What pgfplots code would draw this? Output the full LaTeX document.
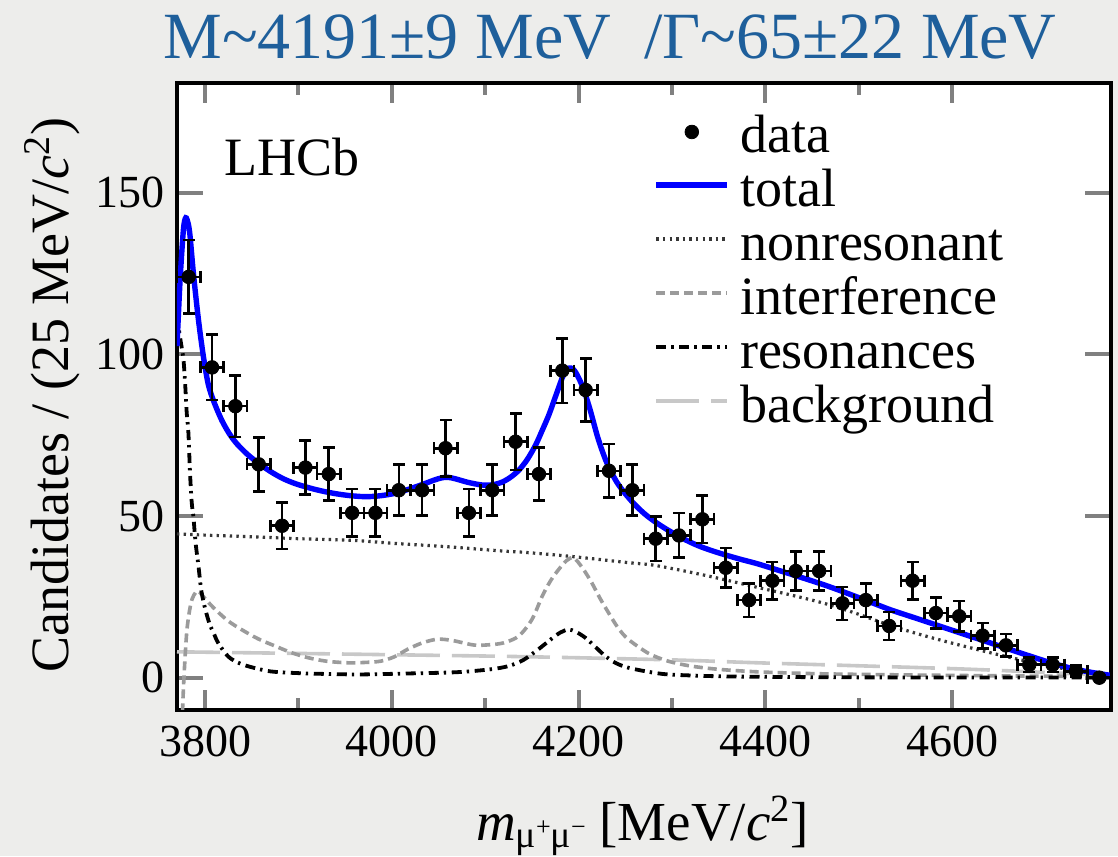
\documentclass[border=0pt]{standalone}
\usepackage{pgfplots}
\pgfplotsset{compat=1.18}
\usepackage{pgfplotstable}
\usetikzlibrary{plotmarks}
\usepackage{fontspec}
\setmainfont{Liberation Serif}
\definecolor{bgcol}{RGB}{237,237,235}
\definecolor{titleblue}{RGB}{30,95,155}
\definecolor{nonrescol}{RGB}{55,55,55}
\definecolor{intcol}{RGB}{155,155,155}
\definecolor{bkgcol}{RGB}{200,200,200}
\definecolor{totblue}{RGB}{0,0,255}
\pgfplotsset{dotlegend/.style={legend image code/.code={\draw[##1] plot coordinates {(17.75pt,4.5pt)};}}}

\pgfplotstableread{
x y ey
3782.5 124 11.4
3807.5 96 10.1
3832.5 84 9.5
3857.5 66 8.4
3882.5 47 7.2
3907.5 65 8.4
3932.5 63 8.2
3957.5 51 7.4
3982.5 51 7.4
4007.5 58 7.9
4032.5 58 7.9
4057.5 71 8.7
4082.5 51 7.4
4107.5 58 7.9
4132.5 73 8.8
4157.5 63 8.2
4182.5 95 10.0
4207.5 89 9.7
4232.5 64 8.3
4257.5 58 7.9
4282.5 43 6.9
4307.5 44 6.9
4332.5 49 7.3
4357.5 34 6.1
4382.5 24 5.2
4407.5 30 5.8
4432.5 33 6.0
4457.5 33 6.0
4482.5 23 5.1
4507.5 24 5.2
4532.5 16 4.3
4557.5 30 5.8
4582.5 20 4.8
4607.5 19 4.7
4632.5 13 3.9
4657.5 10 3.5
4682.5 4 2.3
4707.5 4 2.3
4732.5 2 1.7
4757.5 0 0
}\datatable

\pgfplotstableread{
x y
3770 102.6
3773.3 123
3776.9 138.7
3779.4 142.3
3782 140.5
3784 136.6
3787.5 125.3
3792.9 110.9
3798.2 99.5
3803.6 90.6
3810 85.0
3818 79.6
3826 75.5
3834 72.4
3845 69.2
3857 66.4
3870 63.8
3883.5 61.6
3897 60
3912 58.7
3926 57.7
3940.5 56.9
3956 56.3
3972.5 56.0
3988 56.3
4004.5 57.1
4018 58.3
4033 59.8
4045 61.1
4053 61.8
4060 62.0
4068.5 61.5
4082 60.4
4097 59.6
4108 59.7
4118 60.5
4127 62.0
4136 64.2
4145 67.5
4154 72
4161 76.5
4168 81.2
4174 86
4178.7 89.8
4182.5 92.8
4186 94.8
4190 95.8
4194 95.5
4198 93.9
4203 90.9
4207 87.8
4212 83.2
4216 79
4220 74.8
4225 70.4
4230 66.6
4236 63.0
4242 60
4250 56.9
4260 53.6
4271 50.6
4283 48
4296 45.6
4314 42.7
4330 40.6
4349 38.7
4370 36.9
4392 35.2
4412 33.4
4432 31.6
4463 28.7
4485 26.4
4506 24.1
4534 21.0
4558 18.7
4582 16.4
4607 14.0
4632 11.6
4657 9.2
4682 6.8
4707 4.5
4732 2.6
4750 1.6
4770 0.7
}\totaltable

\pgfplotstableread{
x y
3770 44.5
3800 44.1
3850 43.6
3900 43.0
3958 42.5
4000 41.6
4060 40.5
4118 39.2
4141 38.8
4189 37.6
4253 35.6
4278 34.9
4310 33.2
4349 30.8
4392 27.9
4427 25.6
4463 23.0
4499 19.7
4534 16.1
4570 13.0
4605 10.3
4641 7.7
4669 5.8
4712 3.2
4740 1.9
4770 0.6
}\nonrestable

\pgfplotstableread{
x y
3770 -80
3774 -35
3776 -10
3778 3
3780.4 14
3783 20
3786 24.2
3790 26.4
3793 26.8
3797 25.5
3803 23.5
3811 21.1
3825 17.5
3839 14.9
3857 12
3875 9.8
3892 7.8
3910 6.2
3930 5.1
3953 4.6
3970 4.7
3988 5.1
4003 6.5
4017 8.8
4033 10.8
4049 11.9
4065 11.5
4088 10.1
4105 10.2
4120 10.8
4136 12.9
4150 18
4161 25.2
4170 30
4178.7 33.5
4187 36.2
4194.7 37.1
4204 34
4214 29.4
4223 24.5
4232 20.1
4242 15.5
4253 11.9
4275 7.5
4296 5.1
4320 3.6
4349 2.6
4385 1.9
4420 1.5
4460 1.2
4506 1.0
4600 0.7
4770 0.3
}\inttable

\pgfplotstableread{
x y
3770 112
3771.5 108.8
3774 104
3776.9 98.5
3778.7 91
3780.4 82
3782.2 75.8
3784 63
3785.8 54.1
3787.5 50
3790 41.5
3793 34.5
3796 27
3800 21.5
3805 16.5
3809 14
3814 10.8
3825 6.5
3839 4.2
3860 2.5
3875 1.8
3910 1.3
3963 1.0
4017 1.3
4070 1.7
4106 2.6
4125 3.6
4141 5.5
4157 8.8
4170 11.8
4180 13.9
4189 14.9
4197 14.2
4207 12.4
4218 9.5
4228.5 6.7
4240 4.5
4253 3.1
4275 1.8
4296 1.0
4340 0.5
4385 0.3
4500 0.1
4770 0.05
}\restable

\pgfplotstableread{
x y
3770 8.0
3900 7.5
4000 7.1
4141 6.5
4300 5.5
4392 4.6
4509 3.6
4600 2.8
4662 2.1
4730 1.2
4770 0.5
}\bkgtable

\begin{document}
\begin{tikzpicture}
\fill[bgcol] (-88.5pt,-73pt) rectangle (470.5pt,355pt);
\begin{axis}[
  at={(0pt,0pt)}, anchor=south west,
  width=467pt, height=313.5pt, scale only axis,
  xmin=3770, xmax=4770, ymin=-10, ymax=184,
  axis background/.style={fill=white},
  axis line style={line width=2.2pt},
  tick align=inside,
  xtick={3800,4000,4200,4400,4600},
  xticklabels={3800,4000,4200,4400,4600},
  minor x tick num=1,
  ytick={0,50,100,150},
  yticklabels={0,50,100,150},
  major tick length=13pt,
  minor tick length=6pt,
  x tick style={line width=2pt, /pgfplots/major tick length=10pt},
  y tick style={line width=2pt},
  /pgf/number format/assume math mode=true,
  tick label style={font=\fontsize{23}{23}\selectfont},
  xticklabel style={inner sep=0pt, yshift=-8pt},
  yticklabel style={inner sep=0pt, xshift=-6pt},
  legend image code/.code={\draw[#1] (0pt,5pt) -- (35.5pt,5pt);},
  legend style={at={(axis description cs:0.5103,0.949)}, anchor=north west,
    draw=none, fill=none, inner sep=0pt, outer sep=0pt, row sep=1pt,
    font=\fontsize{27}{27}\selectfont,
    nodes={inner sep=0pt, text height=19pt, text depth=7pt},
    /tikz/every odd column/.append style={column sep=5pt}},
  legend cell align=left,
]
\addlegendimage{black, only marks, mark=*, mark size=3.4pt, dotlegend}
\addlegendentry{data}
\addlegendimage{totblue, line width=2.7pt}
\addlegendentry{total}
\addlegendimage{nonrescol, line width=1.6pt, dash pattern=on 1.2pt off 2.1pt}
\addlegendentry{nonresonant}
\addlegendimage{intcol, line width=1.8pt, dash pattern=on 4.5pt off 2.5pt}
\addlegendentry{interference}
\addlegendimage{black, line width=1.9pt, dash pattern=on 5pt off 2.5pt on 1.2pt off 2.8pt}
\addlegendentry{resonances}
\addlegendimage{bkgcol, line width=1.8pt, dash pattern=on 21.5pt off 6pt}
\addlegendentry{background}

\addplot[forget plot, bkgcol, line width=1.8pt, dash pattern=on 21.5pt off 6pt, smooth, tension=0.5] table {\bkgtable};
\addplot[forget plot, nonrescol, line width=1.6pt, dash pattern=on 1.2pt off 2.1pt, smooth, tension=0.5] table {\nonrestable};
\addplot[forget plot, intcol, line width=1.8pt, dash pattern=on 4.5pt off 2.5pt, smooth, tension=0.5] table {\inttable};
\addplot[forget plot, black, line width=1.9pt, dash pattern=on 5pt off 2.5pt on 1.2pt off 2.8pt, smooth, tension=0.5] table {\restable};
\addplot[forget plot, totblue, line width=2.7pt, smooth, tension=0.5] table {\totaltable};
% error bars (no caps) and caps drawn from the same table
\addplot[forget plot, draw=none, mark=none,
  error bars/.cd, x dir=both, x fixed=12.5, y dir=both, y explicit,
  error mark=none,
  error bar style={line width=1.3pt, black}]
  table[x=x, y=y, y error=ey] {\datatable};
\addplot[forget plot, black, only marks, mark=-, mark size=3pt, mark options={line width=1.3pt}]
  table[x=x, y expr=\thisrow{y}+\thisrow{ey}] {\datatable};
\addplot[forget plot, black, only marks, mark=-, mark size=3pt, mark options={line width=1.3pt}]
  table[x=x, y expr=\thisrow{y}-\thisrow{ey}] {\datatable};
\addplot[forget plot, black, only marks, mark=|, mark size=3pt, mark options={line width=1.3pt}]
  table[x expr=\thisrow{x}+12.5, y=y] {\datatable};
\addplot[forget plot, black, only marks, mark=|, mark size=3pt, mark options={line width=1.3pt}]
  table[x expr=\thisrow{x}-12.5, y=y] {\datatable};
\addplot[forget plot, black, only marks, mark=*, mark size=3.4pt] table[x=x, y=y] {\datatable};
\end{axis}
\node[anchor=base, text=titleblue, font=\fontsize{33}{33}\selectfont] at (216.5pt,325.5pt)
  {M\textasciitilde4191±9 MeV\ \ /Γ\textasciitilde65±22 MeV};
\node[anchor=base west, font=\fontsize{27}{27}\selectfont] at (20pt,267pt) {LHCb};
\node[rotate=90, anchor=base, font=\fontsize{27}{27}\selectfont] at (-54.5pt,157.5pt)
  {Candidates / (25 MeV/\textit{c}\textsuperscript{2})};
\node[anchor=base west, font=\fontsize{27.5}{27.5}\selectfont] at (146pt,-65pt)
  {\textit{m}\raisebox{-3.5pt}{\fontsize{19}{19}\selectfont μ\raisebox{6pt}{\fontsize{13}{13}\selectfont +}μ\raisebox{6pt}{\fontsize{13}{13}\selectfont −}} [MeV/\textit{c}\textsuperscript{2}]};
\pgfresetboundingbox
\useasboundingbox (-88.5pt,-73pt) rectangle (470.5pt,355pt);
\end{tikzpicture}
\end{document}
